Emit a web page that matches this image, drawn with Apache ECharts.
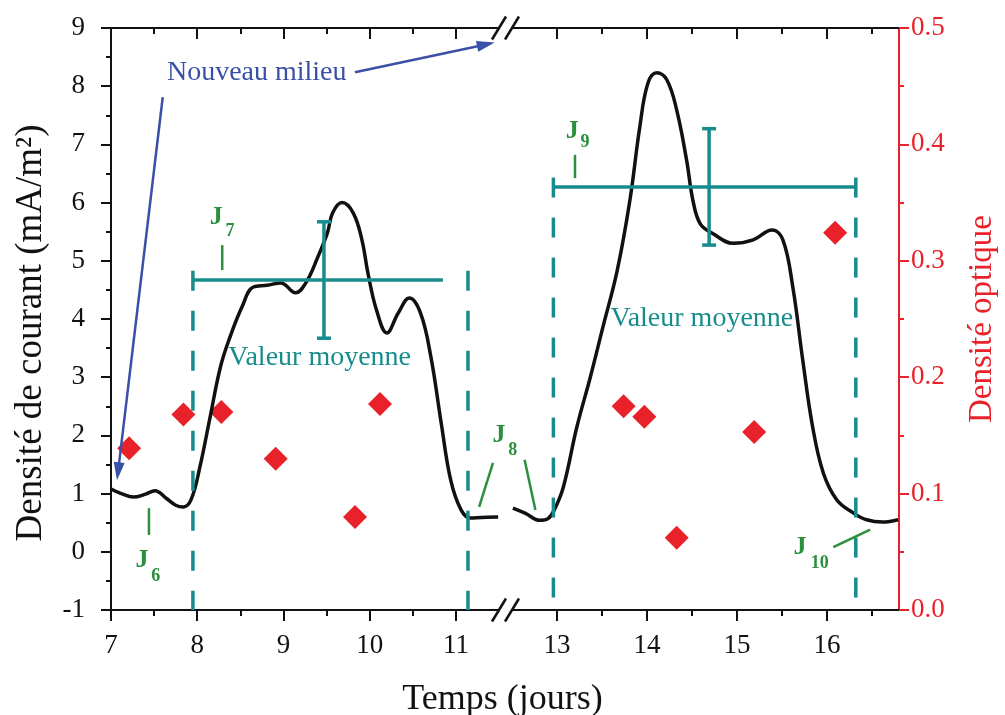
<!DOCTYPE html>
<html><head><meta charset="utf-8">
<script src="https://cdn.jsdelivr.net/npm/echarts@6/dist/echarts.min.js"></script>
<style>html,body{margin:0;padding:0;background:#fff}#chart{width:1005px;height:715px}</style>
</head><body><div id="chart"></div>
<script>
// ---------------- data ----------------
const xTicksLeft = [7, 8, 9, 10, 11];
const xTicksRight = [13, 14, 15, 16];

// current density (mA/m2), first segment (before break) and second segment
const currentDaysA = [7.00, 7.12, 7.26, 7.40, 7.51, 7.64, 7.75, 7.84, 7.93, 8.03, 8.15, 8.27, 8.38, 8.52, 8.65, 8.81, 8.97, 9.14, 9.26, 9.40, 9.51, 9.57, 9.68, 9.81, 9.91, 9.98, 10.08, 10.20, 10.33, 10.46, 10.59, 10.71, 10.83, 10.94, 11.06, 11.17, 11.30, 11.49];
const currentValuesA = [1.08, 1.00, 0.94, 0.99, 1.05, 0.92, 0.80, 0.77, 0.90, 1.45, 2.32, 3.18, 3.69, 4.21, 4.55, 4.58, 4.62, 4.45, 4.62, 5.07, 5.48, 5.82, 6.00, 5.82, 5.36, 4.79, 4.15, 3.76, 4.10, 4.36, 4.10, 3.35, 2.21, 1.23, 0.72, 0.58, 0.59, 0.60];
const currentDaysB = [12.51, 12.65, 12.81, 12.90, 12.97, 13.07, 13.22, 13.37, 13.51, 13.67, 13.81, 13.92, 14.01, 14.11, 14.22, 14.33, 14.44, 14.51, 14.59, 14.73, 14.96, 15.18, 15.39, 15.51, 15.62, 15.73, 15.84, 15.96, 16.11, 16.29, 16.44, 16.62, 16.79];
const currentValuesB = [0.75, 0.66, 0.54, 0.57, 0.72, 1.11, 2.14, 3.00, 3.86, 4.84, 6.04, 7.30, 8.05, 8.23, 8.11, 7.59, 6.73, 6.04, 5.64, 5.47, 5.30, 5.36, 5.53, 5.36, 4.55, 3.30, 2.15, 1.35, 0.89, 0.67, 0.55, 0.51, 0.55];

// optical density (right axis)
const odDaysA = [7.21, 7.84, 8.28, 8.91, 9.83, 10.12];
const odValuesA = [0.139, 0.168, 0.170, 0.130, 0.080, 0.177];
const odDaysB = [13.74, 13.97, 14.33, 15.19, 16.09];
const odValuesB = [0.175, 0.166, 0.062, 0.153, 0.324];

// phases with mean value and error bar
const phaseStart = [7.95, 12.96];
const phaseEnd = [11.14, 16.32];
const meanLineEnd = [10.85, 16.32];
const meanValue = [4.67, 6.27];
const errDay = [9.47, 14.69];
const errHalf = [1.0, 1.0];

// ---------------- annotations ----------------
const SERIF = '"Liberation Serif", "Times New Roman", serif';
const BLACK = '#111';
const RED = '#e8212b';
const TEAL = '#178c8c';
const GREEN = '#2b8f3e';
const BLUE = '#3a50a6';

const annotationsLeft = [
  {type: 'text', at: [8.69, 8.23], text: 'Nouveau milieu', color: BLUE, font: '28px ' + SERIF},
  {type: 'text', at: [9.42, 3.33], text: 'Valeur moyenne', color: TEAL, font: '28px ' + SERIF},
  {type: 'text', at: [7.36, -0.14], text: 'J', color: GREEN, font: 'bold 26px ' + SERIF},
  {type: 'text', at: [7.52, -0.43], text: '6', color: GREEN, font: 'bold 18px ' + SERIF},
  {type: 'text', at: [8.22, 5.75], text: 'J', color: GREEN, font: 'bold 26px ' + SERIF},
  {type: 'text', at: [8.38, 5.51], text: '7', color: GREEN, font: 'bold 18px ' + SERIF},
  {type: 'text', at: [11.50, 2.01], text: 'J', color: GREEN, font: 'bold 26px ' + SERIF},
  {type: 'text', at: [11.66, 1.75], text: '8', color: GREEN, font: 'bold 18px ' + SERIF},
  {type: 'tick', from: [7.44, 0.75], to: [7.44, 0.29]},
  {type: 'tick', from: [8.29, 5.27], to: [8.29, 4.84]},
  {type: 'tick', from: [11.43, 1.53], to: [11.27, 0.77]},
  {type: 'arrow', from: [9.83, 8.24], to: [11.45, 8.75]},
  {type: 'arrow', from: [7.60, 7.81], to: [7.07, 1.23]},
  {type: 'break', at: [11.5, 9]}
];
const annotationsRight = [
  {type: 'text', at: [14.61, 4.0], text: 'Valeur moyenne', color: TEAL, font: '28px ' + SERIF},
  {type: 'text', at: [13.17, 7.23], text: 'J', color: GREEN, font: 'bold 26px ' + SERIF},
  {type: 'text', at: [13.31, 7.04], text: '9', color: GREEN, font: 'bold 18px ' + SERIF},
  {type: 'text', at: [15.70, 0.07], text: 'J', color: GREEN, font: 'bold 26px ' + SERIF},
  {type: 'text', at: [15.92, -0.19], text: '10', color: GREEN, font: 'bold 18px ' + SERIF},
  {type: 'tick', from: [12.64, 1.58], to: [12.76, 0.72]},
  {type: 'tick', from: [13.20, 6.82], to: [13.20, 6.42]},
  {type: 'tick', from: [16.07, 0.08], to: [16.48, 0.38]},
  {type: 'break', at: [12.5, 9]}
];

// ---------------- helpers ----------------
const zip = (a, b) => a.map((v, i) => [v, b[i]]);

function annotRender(list) {
  return function (params, api) {
    const a = list[params.dataIndex];
    if (a.type === 'text') {
      const p = api.coord(a.at);
      return {type: 'text', x: p[0], y: p[1], style: {text: a.text, fill: a.color, font: a.font, align: 'center', verticalAlign: 'middle'}};
    }
    if (a.type === 'tick') {
      const p1 = api.coord(a.from), p2 = api.coord(a.to);
      return {type: 'line', shape: {x1: p1[0], y1: p1[1], x2: p2[0], y2: p2[1]}, style: {stroke: GREEN, lineWidth: 2.5}};
    }
    if (a.type === 'arrow') {
      const p1 = api.coord(a.from), p2 = api.coord(a.to);
      const dx = p2[0] - p1[0], dy = p2[1] - p1[1], L = Math.hypot(dx, dy);
      const ux = dx / L, uy = dy / L, hl = 18, hw = 5.5;
      const bx = p2[0] - ux * hl, by = p2[1] - uy * hl;
      return {type: 'group', children: [
        {type: 'line', shape: {x1: p1[0], y1: p1[1], x2: bx + ux * 3, y2: by + uy * 3}, style: {stroke: BLUE, lineWidth: 2.5}},
        {type: 'polygon', shape: {points: [[p2[0], p2[1]], [bx - uy * hw, by + ux * hw], [bx + uy * hw, by - ux * hw]]}, style: {fill: BLUE}}
      ]};
    }
    if (a.type === 'break') {
      const pt = api.coord([a.at[0], 9]), pb = api.coord([a.at[0], -1]);
      const sl = (c) => ({type: 'line', shape: {x1: c[0] - 7, y1: c[1] + 11.5, x2: c[0] + 7, y2: c[1] - 11.5}, style: {stroke: BLACK, lineWidth: 2.5}});
      return {type: 'group', children: [sl(pt), sl(pb)]};
    }
  };
}

function phaseRender(params, api) {
  const s = api.value(0), m = api.value(1), e = api.value(2), me = api.value(3), ex = api.value(4), h = api.value(5);
  const line = (p1, p2, dash) => ({type: 'line', shape: {x1: p1[0], y1: p1[1], x2: p2[0], y2: p2[1]},
    style: {stroke: TEAL, lineWidth: 3.5, lineDash: dash || null}});
  const top = m + 0.16;
  const eLo = api.coord([ex, m - h]), eHi = api.coord([ex, m + h]);
  return {type: 'group', children: [
    line(api.coord([s, top]), api.coord([s, -1]), [20, 20]),
    line(api.coord([e, top]), api.coord([e, -1]), [20, 20]),
    line(api.coord([s, m]), api.coord([me, m])),
    line(eLo, eHi),
    line([eLo[0] - 7, eLo[1]], [eLo[0] + 7, eLo[1]]),
    line([eHi[0] - 7, eHi[1]], [eHi[0] + 7, eHi[1]])
  ]};
}

const phaseData = phaseStart.map((s, i) => [s, meanValue[i], phaseEnd[i], meanLineEnd[i], errDay[i], errHalf[i]]);

function xAxisDef(gridIndex, min, max, ticks, top) {
  return {
    type: 'value', gridIndex, position: top ? 'top' : 'bottom', min, max, splitNumber: 5,
    axisLine: {show: true, onZero: false, lineStyle: {color: BLACK, width: 2}},
    axisTick: {show: true, inside: !!top, length: 11, customValues: ticks, lineStyle: {color: BLACK, width: 2}},
    minorTick: {show: true, splitNumber: 2, length: 6, lineStyle: {color: BLACK, width: 2}},
    axisLabel: {show: !top, customValues: ticks, margin: 22, color: BLACK, fontSize: 27, fontFamily: SERIF},
    splitLine: {show: false}, minorSplitLine: {show: false}
  };
}

const chart = echarts.init(document.getElementById('chart'), null, {renderer: 'canvas'});
chart.setOption({
  animation: false,
  backgroundColor: '#fff',
  title: {text: 'Temps (jours)', left: 'center', top: 677,
    textStyle: {fontSize: 36, fontWeight: 'normal', fontFamily: SERIF, color: BLACK}},
  grid: [
    {left: 111, top: 28, width: 388, height: 582},
    {left: 512, top: 28, width: 387, height: 582}
  ],
  xAxis: [
    xAxisDef(0, 7, 11.5, xTicksLeft, false),
    xAxisDef(0, 7, 11.5, xTicksLeft, true),
    xAxisDef(1, 12.5, 16.8, xTicksRight, false),
    xAxisDef(1, 12.5, 16.8, xTicksRight, true)
  ],
  yAxis: [
    {type: 'value', gridIndex: 0, position: 'left', min: -1, max: 9, interval: 1,
      name: 'Densité de courant (mA/m²)', nameLocation: 'middle', nameGap: 61, nameRotate: 90,
      nameTextStyle: {fontSize: 37, fontFamily: SERIF, color: BLACK, padding: [0, 28, 0, 0]},
      axisLine: {show: true, lineStyle: {color: BLACK, width: 2}},
      axisTick: {show: true, length: 10, lineStyle: {color: BLACK, width: 2}},
      minorTick: {show: true, splitNumber: 2, length: 5, lineStyle: {color: BLACK, width: 2}},
      axisLabel: {margin: 26, color: BLACK, fontSize: 27, fontFamily: SERIF},
      splitLine: {show: false}},
    {type: 'value', gridIndex: 0, min: 0, max: 0.5, show: false, splitLine: {show: false}},
    {type: 'value', gridIndex: 1, min: -1, max: 9, show: false, splitLine: {show: false}},
    {type: 'value', gridIndex: 1, position: 'right', min: 0, max: 0.5, interval: 0.1,
      name: 'Densité optique', nameLocation: 'middle', nameGap: 67, nameRotate: 90,
      nameTextStyle: {fontSize: 33, fontFamily: SERIF, color: RED, padding: [0, 0, 0, 0]},
      axisLine: {show: true, lineStyle: {color: RED, width: 2}},
      axisTick: {show: true, length: 10, lineStyle: {color: RED, width: 2}},
      minorTick: {show: true, splitNumber: 2, length: 5, lineStyle: {color: RED, width: 2}},
      axisLabel: {margin: 12, color: RED, fontSize: 27, fontFamily: SERIF, formatter: v => v.toFixed(1)},
      splitLine: {show: false}}
  ],
  series: [
    {type: 'scatter', xAxisIndex: 0, yAxisIndex: 1, data: zip(odDaysA, odValuesA), symbol: 'diamond', symbolSize: 24,
      itemStyle: {color: RED, opacity: 1}, z: 2, silent: true},
    {type: 'scatter', xAxisIndex: 2, yAxisIndex: 3, data: zip(odDaysB, odValuesB), symbol: 'diamond', symbolSize: 24,
      itemStyle: {color: RED, opacity: 1}, z: 2, silent: true},
    {type: 'line', xAxisIndex: 0, yAxisIndex: 0, data: zip(currentDaysA, currentValuesA), smooth: 0.4, showSymbol: false,
      lineStyle: {color: BLACK, width: 3.5}, z: 3, silent: true},
    {type: 'line', xAxisIndex: 2, yAxisIndex: 2, data: zip(currentDaysB, currentValuesB), smooth: 0.4, showSymbol: false,
      lineStyle: {color: BLACK, width: 3.5}, z: 3, silent: true},
    {type: 'custom', xAxisIndex: 0, yAxisIndex: 0, data: phaseData.filter(d => d[0] < 11.5), renderItem: phaseRender, clip: false, z: 4, silent: true},
    {type: 'custom', xAxisIndex: 2, yAxisIndex: 2, data: phaseData.filter(d => d[0] > 12.5), renderItem: phaseRender, clip: false, z: 4, silent: true},
    {type: 'custom', xAxisIndex: 0, yAxisIndex: 0, data: annotationsLeft.map(a => a.at || a.from), renderItem: annotRender(annotationsLeft), clip: false, z: 5, silent: true},
    {type: 'custom', xAxisIndex: 2, yAxisIndex: 2, data: annotationsRight.map(a => a.at || a.from), renderItem: annotRender(annotationsRight), clip: false, z: 5, silent: true}
  ]
});
</script></body></html>
